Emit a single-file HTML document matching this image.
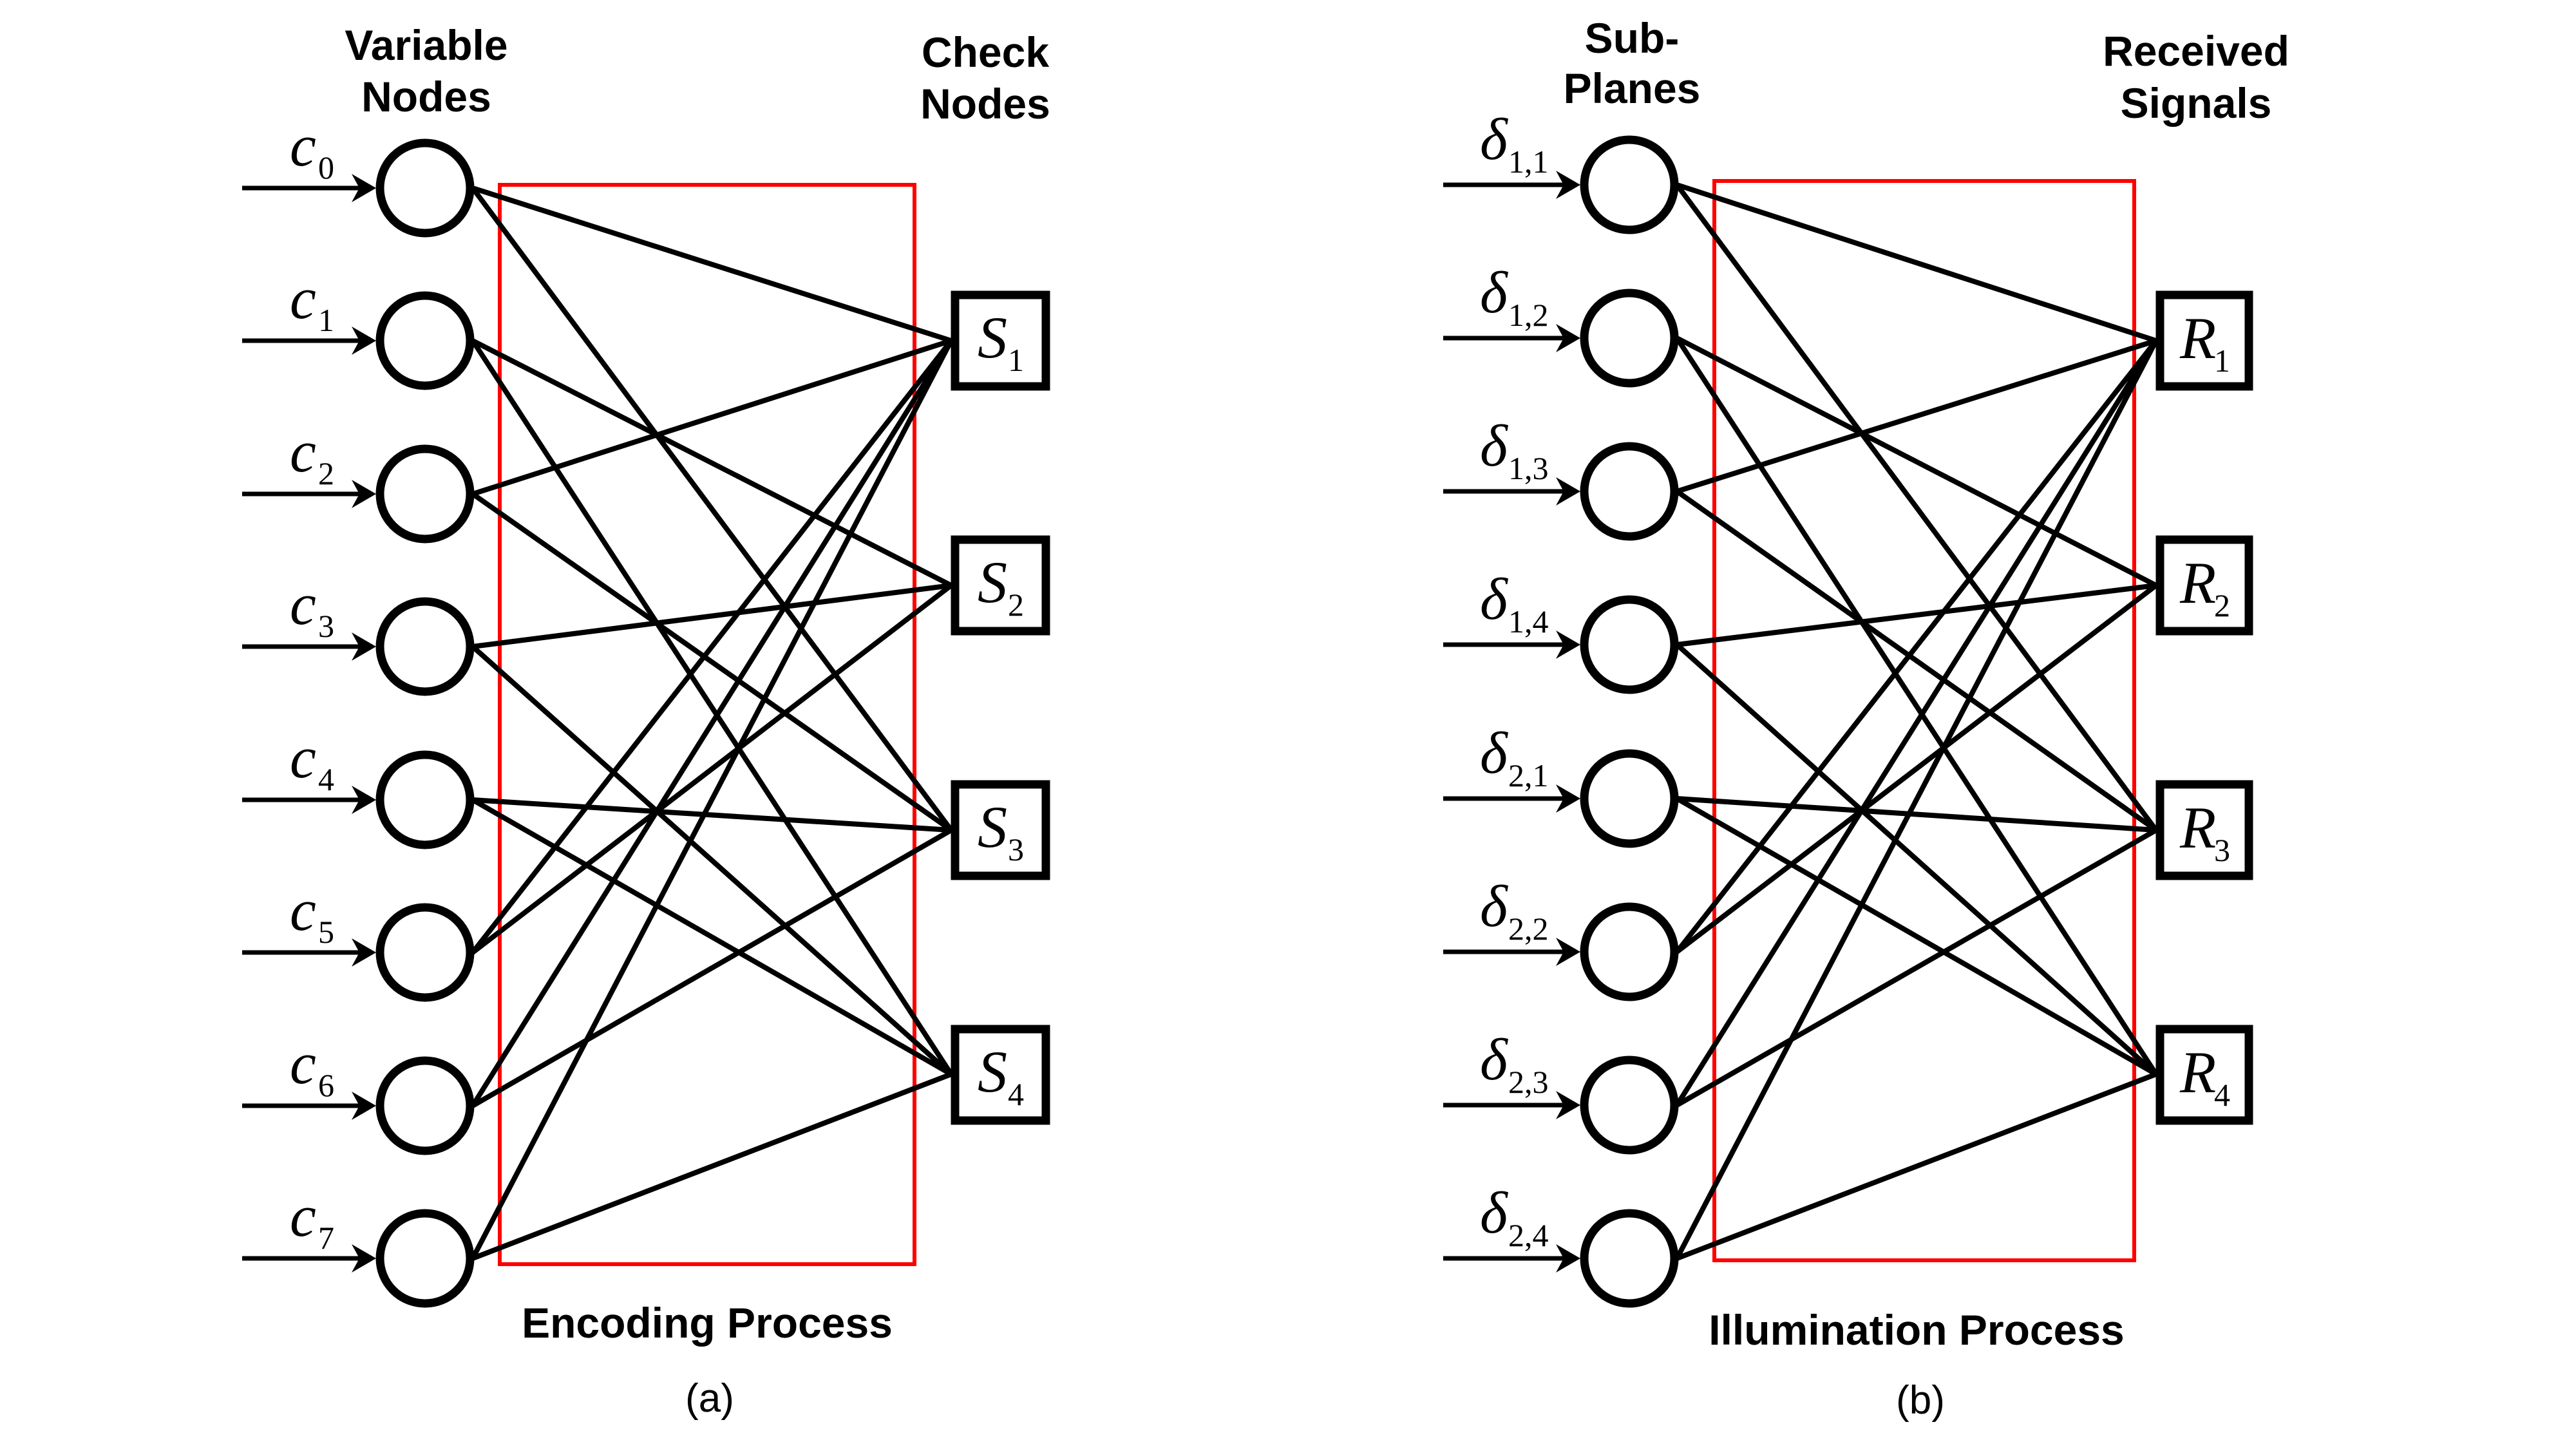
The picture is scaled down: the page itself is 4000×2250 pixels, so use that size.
<!DOCTYPE html>
<html><head><meta charset="utf-8"><style>
html,body{margin:0;padding:0;background:#fff;}
svg{display:block;}
.t{font-family:"Liberation Sans",Arial,sans-serif;font-weight:bold;font-size:66px;fill:#000;text-anchor:middle;}
.p{font-family:"Liberation Sans",Arial,sans-serif;font-size:62px;fill:#000;text-anchor:middle;}
.m{font-family:"Liberation Serif","Times New Roman",serif;font-style:italic;font-size:92px;fill:#000;}
.s{font-family:"Liberation Serif","Times New Roman",serif;font-size:50px;fill:#000;}
</style></head><body>
<svg width="4000" height="2250" viewBox="0 0 4000 2250" xmlns="http://www.w3.org/2000/svg">
<rect width="4000" height="2250" fill="#fff"/>
<g id="left">
<text class="t" x="662" y="93">Variable</text>
<text class="t" x="662" y="173">Nodes</text>
<text class="t" x="1530" y="104">Check</text>
<text class="t" x="1530" y="184">Nodes</text>
<rect x="776" y="287" width="644" height="1676" fill="none" stroke="#f00" stroke-width="6"/>
<g stroke="#000" stroke-width="8" stroke-linecap="round">
<line x1="734" y1="292" x2="1477" y2="529"/><line x1="734" y1="292" x2="1477" y2="1289"/>
<line x1="734" y1="529" x2="1477" y2="909"/><line x1="734" y1="529" x2="1477" y2="1668"/>
<line x1="734" y1="767" x2="1477" y2="529"/><line x1="734" y1="767" x2="1477" y2="1289"/>
<line x1="734" y1="1004" x2="1477" y2="909"/><line x1="734" y1="1004" x2="1477" y2="1668"/>
<line x1="734" y1="1242" x2="1477" y2="1289"/><line x1="734" y1="1242" x2="1477" y2="1668"/>
<line x1="734" y1="1479" x2="1477" y2="529"/><line x1="734" y1="1479" x2="1477" y2="909"/>
<line x1="734" y1="1717" x2="1477" y2="529"/><line x1="734" y1="1717" x2="1477" y2="1289"/>
<line x1="734" y1="1954" x2="1477" y2="529"/><line x1="734" y1="1954" x2="1477" y2="1668"/>
</g>
<g fill="#fff" stroke="#000" stroke-width="13">
<circle cx="660" cy="292" r="70"/><circle cx="660" cy="529" r="70"/><circle cx="660" cy="767" r="70"/><circle cx="660" cy="1004" r="70"/>
<circle cx="660" cy="1242" r="70"/><circle cx="660" cy="1479" r="70"/><circle cx="660" cy="1717" r="70"/><circle cx="660" cy="1954" r="70"/>
<rect x="1483" y="458" width="141" height="142"/><rect x="1483" y="838" width="141" height="142"/>
<rect x="1483" y="1218" width="141" height="142"/><rect x="1483" y="1598" width="141" height="142"/>
</g>
<g stroke="#000" stroke-width="7">
<line x1="376" y1="292" x2="570" y2="292"/><line x1="376" y1="529" x2="570" y2="529"/><line x1="376" y1="767" x2="570" y2="767"/><line x1="376" y1="1004" x2="570" y2="1004"/>
<line x1="376" y1="1242" x2="570" y2="1242"/><line x1="376" y1="1479" x2="570" y2="1479"/><line x1="376" y1="1717" x2="570" y2="1717"/><line x1="376" y1="1954" x2="570" y2="1954"/>
</g>
<g fill="#000">
<path d="M584 292 L546 270 L558 292 L546 314Z"/><path d="M584 529 L546 507 L558 529 L546 551Z"/><path d="M584 767 L546 745 L558 767 L546 789Z"/><path d="M584 1004 L546 982 L558 1004 L546 1026Z"/>
<path d="M584 1242 L546 1220 L558 1242 L546 1264Z"/><path d="M584 1479 L546 1457 L558 1479 L546 1501Z"/><path d="M584 1717 L546 1695 L558 1717 L546 1739Z"/><path d="M584 1954 L546 1932 L558 1954 L546 1976Z"/>
</g>
<text class="m" x="450" y="257">c</text><text class="s" x="494" y="277">0</text>
<text class="m" x="450" y="494">c</text><text class="s" x="494" y="514">1</text>
<text class="m" x="450" y="732">c</text><text class="s" x="494" y="752">2</text>
<text class="m" x="450" y="969">c</text><text class="s" x="494" y="989">3</text>
<text class="m" x="450" y="1207">c</text><text class="s" x="494" y="1227">4</text>
<text class="m" x="450" y="1444">c</text><text class="s" x="494" y="1464">5</text>
<text class="m" x="450" y="1682">c</text><text class="s" x="494" y="1702">6</text>
<text class="m" x="450" y="1919">c</text><text class="s" x="494" y="1939">7</text>
<text class="m" x="1518" y="555">S</text><text class="s" x="1565" y="576">1</text>
<text class="m" x="1518" y="935">S</text><text class="s" x="1565" y="956">2</text>
<text class="m" x="1518" y="1315">S</text><text class="s" x="1565" y="1336">3</text>
<text class="m" x="1518" y="1695">S</text><text class="s" x="1565" y="1716">4</text>
<text class="t" x="1098" y="2077">Encoding Process</text>
<text class="p" x="1102" y="2192">(a)</text>
</g>
<g id="right">
<text class="t" x="2534" y="82">Sub-</text>
<text class="t" x="2534" y="160">Planes</text>
<text class="t" x="3410" y="102">Received</text>
<text class="t" x="3410" y="183">Signals</text>
<rect x="2662" y="281" width="652" height="1676" fill="none" stroke="#f00" stroke-width="6"/>
<g stroke="#000" stroke-width="8" stroke-linecap="round">
<line x1="2604" y1="287" x2="3348" y2="529"/><line x1="2604" y1="287" x2="3348" y2="1289"/>
<line x1="2604" y1="525" x2="3348" y2="909"/><line x1="2604" y1="525" x2="3348" y2="1668"/>
<line x1="2604" y1="763" x2="3348" y2="529"/><line x1="2604" y1="763" x2="3348" y2="1289"/>
<line x1="2604" y1="1001" x2="3348" y2="909"/><line x1="2604" y1="1001" x2="3348" y2="1668"/>
<line x1="2604" y1="1240" x2="3348" y2="1289"/><line x1="2604" y1="1240" x2="3348" y2="1668"/>
<line x1="2604" y1="1478" x2="3348" y2="529"/><line x1="2604" y1="1478" x2="3348" y2="909"/>
<line x1="2604" y1="1716" x2="3348" y2="529"/><line x1="2604" y1="1716" x2="3348" y2="1289"/>
<line x1="2604" y1="1954" x2="3348" y2="529"/><line x1="2604" y1="1954" x2="3348" y2="1668"/>
</g>
<g fill="#fff" stroke="#000" stroke-width="13">
<circle cx="2530" cy="287" r="70"/><circle cx="2530" cy="525" r="70"/><circle cx="2530" cy="763" r="70"/><circle cx="2530" cy="1001" r="70"/>
<circle cx="2530" cy="1240" r="70"/><circle cx="2530" cy="1478" r="70"/><circle cx="2530" cy="1716" r="70"/><circle cx="2530" cy="1954" r="70"/>
<rect x="3354" y="458" width="138" height="142"/><rect x="3354" y="838" width="138" height="142"/>
<rect x="3354" y="1218" width="138" height="142"/><rect x="3354" y="1598" width="138" height="142"/>
</g>
<g stroke="#000" stroke-width="7">
<line x1="2241" y1="287" x2="2440" y2="287"/><line x1="2241" y1="525" x2="2440" y2="525"/><line x1="2241" y1="763" x2="2440" y2="763"/><line x1="2241" y1="1001" x2="2440" y2="1001"/>
<line x1="2241" y1="1240" x2="2440" y2="1240"/><line x1="2241" y1="1478" x2="2440" y2="1478"/><line x1="2241" y1="1716" x2="2440" y2="1716"/><line x1="2241" y1="1954" x2="2440" y2="1954"/>
</g>
<g fill="#000">
<path d="M2454 287 L2416 265 L2428 287 L2416 309Z"/><path d="M2454 525 L2416 503 L2428 525 L2416 547Z"/><path d="M2454 763 L2416 741 L2428 763 L2416 785Z"/><path d="M2454 1001 L2416 979 L2428 1001 L2416 1023Z"/>
<path d="M2454 1240 L2416 1218 L2428 1240 L2416 1262Z"/><path d="M2454 1478 L2416 1456 L2428 1478 L2416 1500Z"/><path d="M2454 1716 L2416 1694 L2428 1716 L2416 1738Z"/><path d="M2454 1954 L2416 1932 L2428 1954 L2416 1976Z"/>
</g>
<text class="m" x="2298" y="247">δ</text><text class="s" x="2342" y="268">1,1</text>
<text class="m" x="2298" y="485">δ</text><text class="s" x="2342" y="506">1,2</text>
<text class="m" x="2298" y="723">δ</text><text class="s" x="2342" y="744">1,3</text>
<text class="m" x="2298" y="961">δ</text><text class="s" x="2342" y="982">1,4</text>
<text class="m" x="2298" y="1200">δ</text><text class="s" x="2342" y="1221">2,1</text>
<text class="m" x="2298" y="1438">δ</text><text class="s" x="2342" y="1459">2,2</text>
<text class="m" x="2298" y="1676">δ</text><text class="s" x="2342" y="1697">2,3</text>
<text class="m" x="2298" y="1914">δ</text><text class="s" x="2342" y="1935">2,4</text>
<text class="m" x="3385" y="556">R</text><text class="s" x="3438" y="577">1</text>
<text class="m" x="3385" y="936">R</text><text class="s" x="3438" y="957">2</text>
<text class="m" x="3385" y="1316">R</text><text class="s" x="3438" y="1337">3</text>
<text class="m" x="3385" y="1696">R</text><text class="s" x="3438" y="1717">4</text>
<text class="t" x="2976" y="2088">Illumination Process</text>
<text class="p" x="2982" y="2195">(b)</text>
</g>
</svg>
</body></html>
